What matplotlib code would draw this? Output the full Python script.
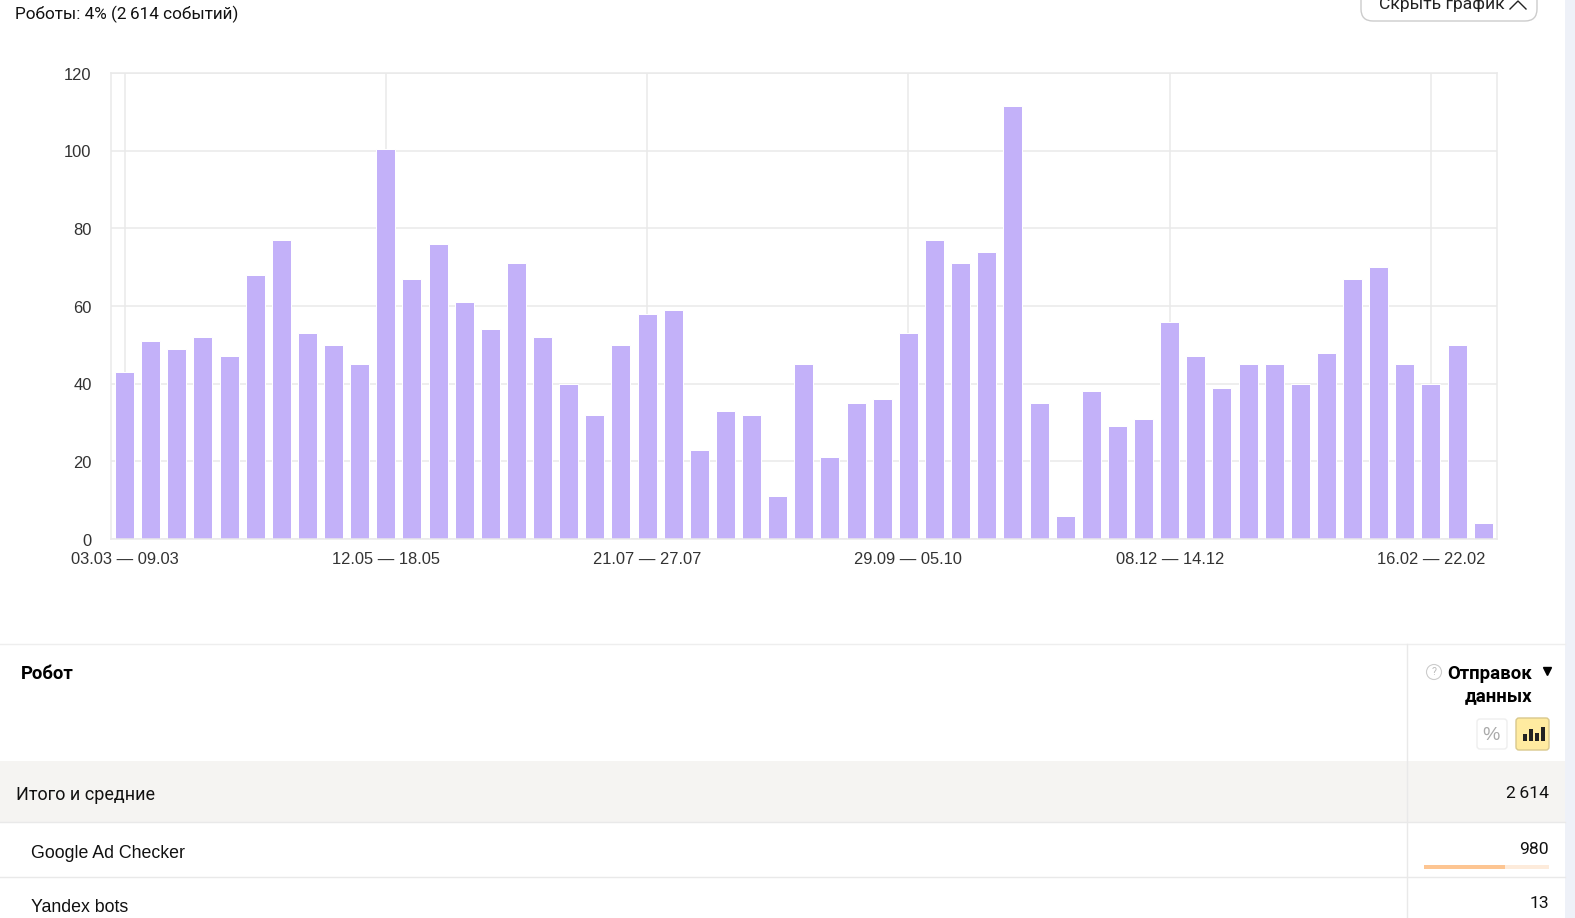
import matplotlib
matplotlib.use('Agg')
from matplotlib import pyplot as plt
from matplotlib.patches import FancyBboxPatch, Rectangle, Circle
from matplotlib.transforms import ScaledTranslation

W, H = 1575, 918

values = [43, 51, 49, 52, 47, 68, 77, 53, 50, 45, 100.5, 67, 76, 61, 54, 71, 52, 40,
          32, 50, 58, 59, 23, 33, 32, 11, 45, 21, 35, 36, 53, 77, 71, 74, 111.5, 35,
          6, 38, 29, 31, 56, 47, 39, 45, 45, 40, 48, 67, 70, 45, 40, 50, 4]
tick_pos = [0, 10, 20, 30, 40, 50]
tick_labels = ['03.03 — 09.03', '12.05 — 18.05', '21.07 — 27.07',
               '29.09 — 05.10', '08.12 — 14.12', '16.02 — 22.02']
y_ticks = [0, 20, 40, 60, 80, 100, 120]

title = 'Роботы: 4% (2\u2009614 событий)'
rows = ['Итого и средние', 'Google Ad Checker', 'Yandex bots']
row_fonts = ['Roboto', 'Liberation Sans', 'Liberation Sans']
row_sizes = [13, 12.8, 12.8]
row_values = ['2\u2009614', '980', '13']

GRID = '#e9e9e9'
UI = ['Roboto', 'DejaVu Sans']
FS = 12.6

fig = plt.figure(figsize=(W/100, H/100), dpi=100)

# page layer in pixel coords
bg = fig.add_axes([0, 0, 1, 1])
bg.set_xlim(0, W)
bg.set_ylim(H, 0)
bg.axis('off')

bg.add_patch(Rectangle((1565, 0), 10, H, color='#eef1f8', lw=0))
bg.add_patch(Rectangle((0, 761), 1565, 61, color='#f5f4f2', lw=0))
bg.plot([0, 1565], [644, 644], color='#eeeeee', lw=1)
bg.plot([0, 1565], [822, 822], color='#e9e9e9', lw=1)
bg.plot([0, 1565], [877, 877], color='#e9e9e9', lw=1)
bg.plot([1407, 1407], [644, H], color='#e9e9e9', lw=1)

bg.text(15, 14, title, family=UI, fontsize=12.3, color='#111111', va='center')

# button, cut by the top edge
bg.add_patch(FancyBboxPatch((1373, -30), 152, 39, boxstyle='round,pad=12,rounding_size=12',
                            fc='white', ec='#cccccc', lw=1))
bg.text(1379, 4, 'Скрыть график', family=UI, fontsize=FS, color='#222222', va='center')
bg.plot([1510, 1518, 1526], [9, 1, 9], color='#222222', lw=1)

bg.text(21, 674, 'Робот', family=UI, fontsize=13.3, weight='bold', color='black', va='center')
bg.text(1532, 674, 'Отправок', family=UI, fontsize=13.4, weight='bold', color='black', va='center', ha='right')
bg.text(1532, 696, 'данных', family=UI, fontsize=13.4, weight='bold', color='black', va='center', ha='right')
bg.plot([1547], [671], marker='v', ms=6, color='black')
bg.add_patch(Circle((1434, 672), 7.5, fc='white', ec='#cccccc', lw=0.8))
bg.text(1434, 672, '?', family=UI, fontsize=7.5, color='#bbbbbb', ha='center', va='center')

# percent / bars toggles
bg.add_patch(FancyBboxPatch((1477, 719), 30, 30, boxstyle='round,pad=0,rounding_size=3',
                            fc='white', ec='#eeeeee', lw=1))
bg.text(1491, 735, '%', family='Liberation Sans', fontsize=14, color='#aaaaaa', ha='center', va='center')
bg.add_patch(FancyBboxPatch((1516, 718), 33, 32, boxstyle='round,pad=0,rounding_size=3',
                            fc='#ffeba0', ec='#d9c88c', lw=1))
for x, h in zip([1525, 1531, 1537, 1543], [7, 12, 8, 14]):
    bg.add_patch(Rectangle((x - 1.6, 741 - h), 3.2, h, color='#222222', lw=0))

for label, font, size, y, x in zip(rows, row_fonts, row_sizes, [795, 853, 907], [16, 31, 31]):
    bg.text(x, y, label, family=font, fontsize=size, color='#111111', va='center')
for val, y in zip(row_values, [794, 850, 904]):
    bg.text(1549, y, val, family=UI, fontsize=FS, color='#111111', va='center', ha='right')

bg.add_patch(Rectangle((1424, 865), 125, 4, color='#fdebdb', lw=0))
bg.add_patch(Rectangle((1424, 865), 81, 4, color='#fdc592', lw=0))

# chart
ax = fig.add_axes([111/W, 1 - 539/H, (1497 - 111)/W, (539 - 73)/H])
ax.set_facecolor('none')
ax.bar(range(len(values)), values, width=0.727, color='#c3b1f9', edgecolor='white', linewidth=0.72, zorder=2)
ax.set_xlim(-0.52, 52.53)
ax.set_ylim(0, 120)
ax.set_yticks(y_ticks)
ax.set_xticks(tick_pos)
ax.set_xticklabels(tick_labels)
ax.grid(True, color=GRID, lw=1.1)
ax.set_axisbelow(True)
for s in ax.spines.values():
    s.set_color(GRID)
    s.set_linewidth(1.1)
ax.tick_params(length=0, labelcolor='#333333', labelsize=11.9)
ax.tick_params(axis='y', pad=14)
ax.tick_params(axis='x', pad=9)
for t in ax.get_xticklabels() + ax.get_yticklabels():
    t.set_family('Liberation Sans')
for t in ax.get_yticklabels():
    t.set_transform(t.get_transform() + ScaledTranslation(0, -0.4/72, fig.dpi_scale_trans))

fig.savefig('out.png', dpi=100)
